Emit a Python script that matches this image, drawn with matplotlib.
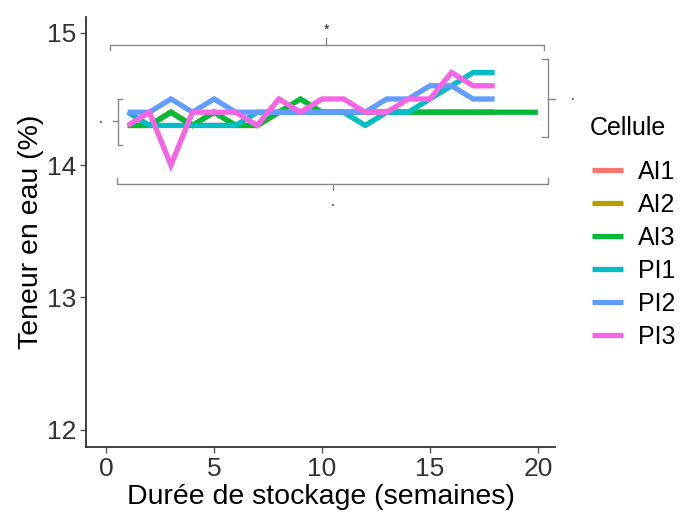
import matplotlib
matplotlib.use("Agg")
import matplotlib.pyplot as plt
import numpy as np

plt.rcParams['font.family'] = ['Liberation Sans', 'DejaVu Sans']

# semaines de stockage
weeks = list(range(1, 19))
weeks_ai3 = list(range(1, 21))

# teneur en eau (%) par cellule
ai1 = [14.3, 14.3, 14.4, 14.3, 14.3, 14.3, 14.3, 14.4, 14.4, 14.4, 14.4, 14.4, 14.4, 14.4, 14.4, 14.4, 14.4, 14.4]
ai2 = [14.3, 14.3, 14.4, 14.3, 14.4, 14.3, 14.3, 14.4, 14.4, 14.4, 14.4, 14.4, 14.4, 14.4, 14.4, 14.4, 14.4, 14.4]
ai3 = [14.3, 14.3, 14.4, 14.3, 14.4, 14.3, 14.3, 14.4, 14.5, 14.4, 14.4, 14.4, 14.4, 14.4, 14.4, 14.4, 14.4, 14.4, 14.4, 14.4]
pi1 = [14.4, 14.3, 14.3, 14.3, 14.3, 14.3, 14.4, 14.4, 14.4, 14.4, 14.4, 14.3, 14.4, 14.4, 14.5, 14.6, 14.7, 14.7]
pi2 = [14.4, 14.4, 14.5, 14.4, 14.5, 14.4, 14.4, 14.4, 14.4, 14.4, 14.4, 14.4, 14.5, 14.5, 14.6, 14.6, 14.5, 14.5]
pi3 = [14.3, 14.4, 14.0, 14.4, 14.4, 14.4, 14.3, 14.5, 14.4, 14.5, 14.5, 14.4, 14.4, 14.5, 14.5, 14.7, 14.6, 14.6]

labels = ["AI1", "AI2", "AI3", "PI1", "PI2", "PI3"]
colors = ["#F8766D", "#B79F00", "#00BA38", "#00BFC4", "#619CFF", "#F564E3"]
series = [(weeks, ai1), (weeks, ai2), (weeks_ai3, ai3), (weeks, pi1), (weeks, pi2), (weeks, pi3)]

fig = plt.figure(figsize=(7, 5.29), dpi=100)
ax = fig.add_axes([0.123, 0.155, 0.670, 0.813])

for (x, y), lab, col in zip(series, labels, colors):
    ax.plot(x, y, color=col, lw=3.8, label=lab, solid_joinstyle='miter', solid_capstyle='butt')

ax.set_xlim(-0.93, 20.8)
ax.set_ylim(11.87, 15.12)
ax.set_xticks([0, 5, 10, 15, 20])
ax.set_yticks([12, 13, 14, 15])
ax.spines['top'].set_visible(False)
ax.spines['right'].set_visible(False)
for s in ['left', 'bottom']:
    ax.spines[s].set_linewidth(1.3)
    ax.spines[s].set_color('#333333')
ax.tick_params(length=4, width=1, color='#555555', labelsize=19, labelcolor='#333333', pad=3)
ax.set_xlabel("Durée de stockage (semaines)", fontsize=20.5, labelpad=2)
ax.set_ylabel("Teneur en eau (%)", fontsize=20.5, labelpad=2)

# accolades de comparaison
gc = '#888888'
kw = dict(color=gc, lw=1.0, clip_on=False)
# haut
ax.plot([0.19, 0.19, 20.3, 20.3], [14.87, 14.91, 14.91, 14.87], **kw)
ax.plot([10.2, 10.2], [14.91, 14.96], **kw)
ax.text(10.2, 15.02, "*", ha='center', va='center', fontsize=10, color='#222222')
# bas
ax.plot([0.5, 0.5, 20.45, 20.45], [13.9, 13.86, 13.86, 13.9], **kw)
ax.plot([10.5, 10.5], [13.86, 13.81], **kw)
ax.text(10.5, 13.72, ".", ha='center', va='center', fontsize=10, color='#222222')
# gauche
ax.plot([0.75, 0.55, 0.55, 0.75], [14.5, 14.5, 14.15, 14.15], **kw)
ax.plot([0.55, 0.3], [14.33, 14.33], **kw)
ax.text(-0.28, 14.35, ".", ha='center', va='center', fontsize=10, color='#222222')
# droite
ax.plot([20.2, 20.45, 20.45, 20.2], [14.8, 14.8, 14.21, 14.21], **kw)
ax.plot([20.45, 20.8], [14.5, 14.5], **kw)
ax.text(21.6, 14.52, ".", ha='center', va='center', fontsize=10, color='#222222')

fig.text(590 / 700, 1 - 128 / 529, "Cellule", fontsize=18, ha='left', va='center')
leg = fig.legend(loc='upper left', bbox_to_anchor=(0.813, 0.741), frameon=False,
                 fontsize=18, handlelength=1.25, handletextpad=0.6, labelspacing=0.36)

fig.savefig("out.png", dpi=100)
